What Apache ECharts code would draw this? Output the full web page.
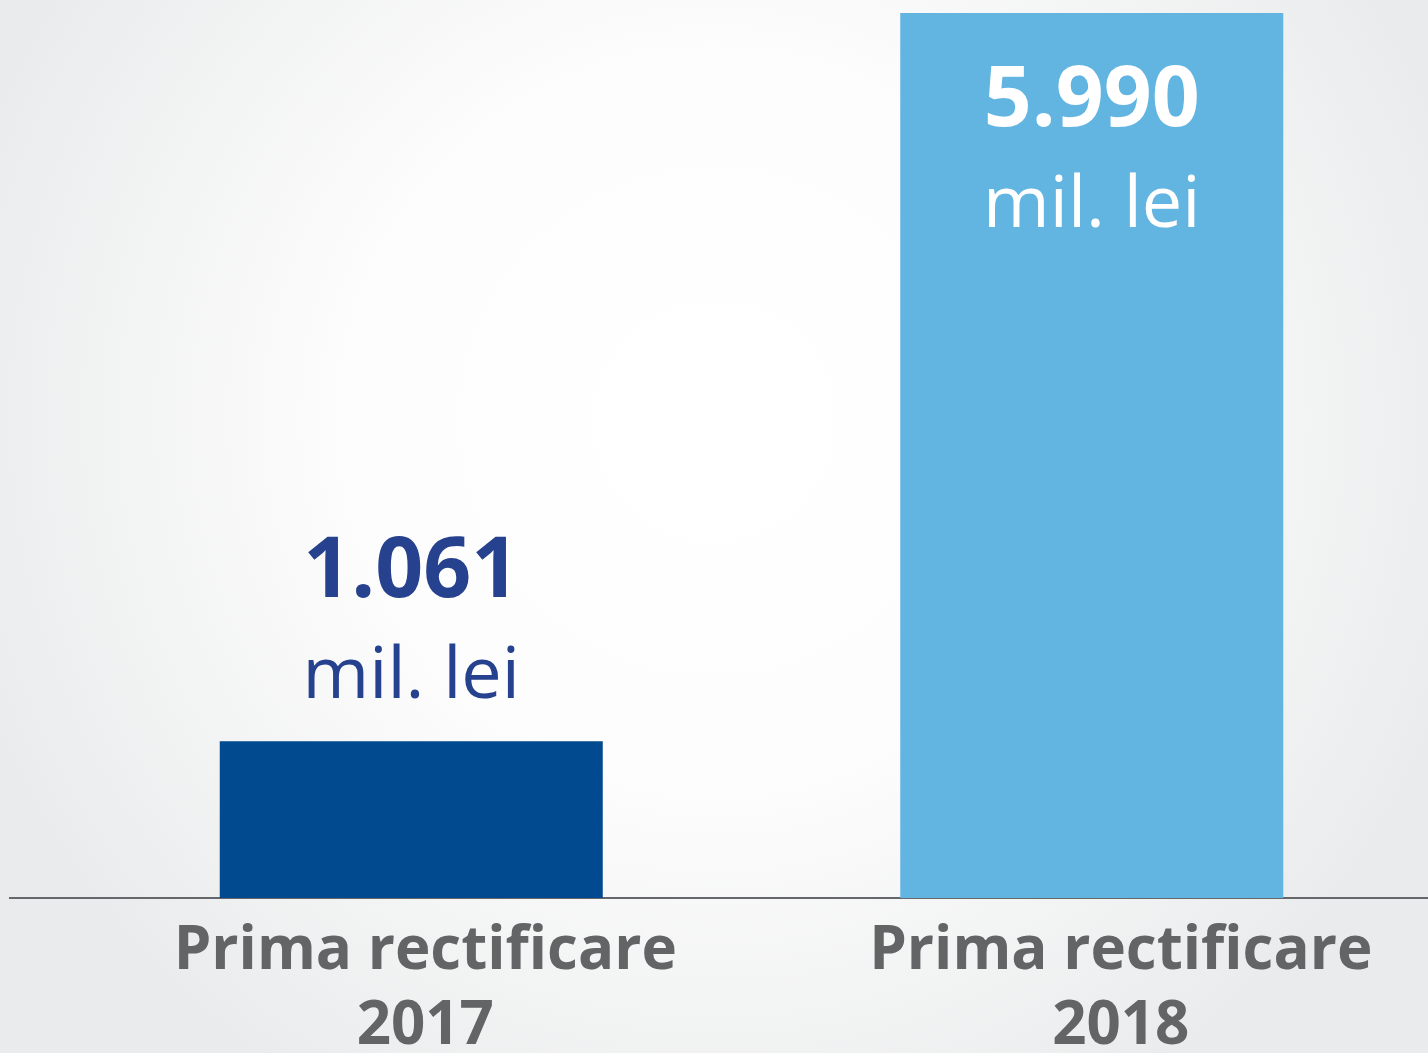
<!DOCTYPE html>
<html>
<head>
<meta charset="utf-8">
<script src="https://cdn.jsdelivr.net/npm/echarts@6/dist/echarts.min.js"></script>
<style>
  html, body { margin: 0; padding: 0; }
  #main { width: 1428px; height: 1053px; }
</style>
</head>
<body>
<div id="main"></div>
<script>
// date
var categories = ['Prima rectificare\n2017', 'Prima rectificare\n2018'];
var values = [1061, 5990];
var valueLabels = ['1.061', '5.990'];
var unitLabel = 'mil. lei';

var chart = echarts.init(document.getElementById('main'));

function labelFor(i) {
    var inside = i === 1;
    var c = inside ? '#ffffff' : '#26418d';
    return {
        show: true,
        position: inside ? 'insideTop' : 'top',
        distance: inside ? 37 : 12,
        formatter: '{n|' + valueLabels[i] + '}\n{u|' + unitLabel + '}',
        rich: {
            n: { fontFamily: 'Open Sans', fontWeight: 'bold', fontSize: 84, lineHeight: 104, color: c },
            u: { fontFamily: 'Open Sans', fontSize: 72, lineHeight: 104, color: c }
        }
    };
}

chart.setOption({
    backgroundColor: {
        type: 'radial', x: 0.5, y: 0.4, r: 0.75,
        colorStops: [
            { offset: 0, color: '#ffffff' },
            { offset: 0.45, color: '#fdfdfd' },
            { offset: 1, color: '#eaebec' }
        ]
    },
    animation: false,
    grid: { left: 71, right: -4, top: 13, bottom: 155, outerBoundsMode: 'none', containLabel: false },
    xAxis: {
        type: 'category',
        data: [
            { value: categories[0], textStyle: { padding: [0, 0, 0, 28] } },
            { value: categories[1], textStyle: { padding: [0, 0, 0, 58] } }
        ],
        axisLine: { lineStyle: { color: '#66676a', width: 2 } },
        axisTick: { show: false },
        axisLabel: {
            margin: 16,
            color: '#636466',
            fontFamily: 'Open Sans',
            fontWeight: 'bold',
            fontSize: 60,
            lineHeight: 75
        }
    },
    yAxis: {
        type: 'value',
        min: 0,
        max: 5990,
        show: false,
        splitLine: { show: false }
    },
    graphic: [{
        type: 'line',
        shape: { x1: 9, y1: 898, x2: 72, y2: 898 },
        style: { stroke: '#66676a', lineWidth: 2 }
    }],
    series: [{
        type: 'bar',
        barWidth: 383,
        data: [
            { value: values[0], itemStyle: { color: '#014a8f' }, label: labelFor(0) },
            { value: values[1], itemStyle: { color: '#62b5e0' }, label: labelFor(1) }
        ]
    }]
});
</script>
</body>
</html>
